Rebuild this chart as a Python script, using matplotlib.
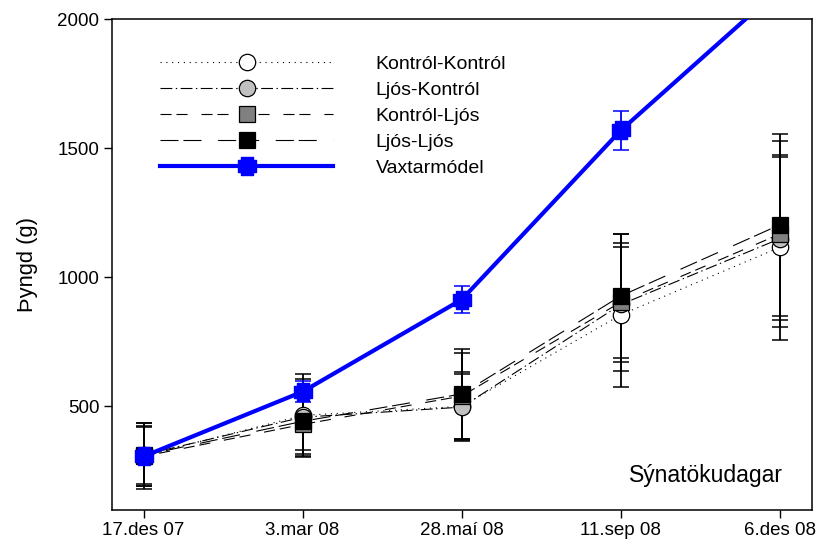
import matplotlib
matplotlib.use("Agg")
import matplotlib.pyplot as plt
from matplotlib.path import Path

plt.rcParams["font.family"] = ["Liberation Sans", "DejaVu Sans"]
plt.rcParams["lines.scale_dashes"] = False

# Sýnatökudagar og meðalþyngd (g) með staðalfráviki
dates = ["17.des 07", "3.mar 08", "28.maí 08", "11.sep 08", "6.des 08"]
kk = [308, 465, 500, 855, 1117]
kk_err = [127, 162, 135, 278, 359]
lk = [312, 458, 497, 895, 1150]
lk_err = [122, 150, 128, 224, 317]
kl = [306, 430, 540, 904, 1168]
kl_err = [114, 113, 165, 265, 362]
ll = [310, 442, 548, 928, 1204]
ll_err = [112, 112, 176, 242, 352]
vax = [306, 557, 914, 1570, 2120]
vax_err = [15, 41, 52, 75, 100]

names = ["Kontról-Kontról", "Ljós-Kontról", "Kontról-Ljós", "Ljós-Ljós", "Vaxtarmódel"]

# fylltur kross, breiðari armar en 'P'
a, b = 0.32, 0.5
cross = Path([(-a, -b), (a, -b), (a, -a), (b, -a), (b, a), (a, a), (a, b),
              (-a, b), (-a, a), (-b, a), (-b, -a), (-a, -a), (-a, -b)],
             closed=True)

styles = [
    dict(ls=(0, (0.8, 3.4)), marker="o", mfc="white", ms=11.8),
    dict(ls=(0, (8.5, 2.5, 1.0, 2.5)), marker="o", mfc="#c0c0c0", ms=11.8),
    dict(ls=(0, (8, 3.5, 8, 10)), marker="s", mfc="#808080", ms=11.8),
    dict(ls=(0, (13, 3.5, 13, 12)), marker="s", mfc="black", ms=11.8),
]

fig = plt.figure(figsize=(8.19, 5.49), dpi=100)
ax = fig.add_axes([0.1364, 0.0719, 0.8547, 0.8926])
x = list(range(len(dates)))

series = [(kk, kk_err), (lk, lk_err), (kl, kl_err), (ll, ll_err)]
handles = []
for (y, e), st, name in zip(series, styles, names):
    ax.errorbar(x, y, yerr=e, fmt="none", ecolor="black", elinewidth=1.3,
                capsize=6, capthick=1.1, zorder=2)
    h, = ax.plot(x, y, color="black", lw=0.8, linestyle=st["ls"],
                 marker=st["marker"], mfc=st["mfc"], mec="black", mew=0.9,
                 ms=st["ms"], label=name, zorder=3)
    handles.append(h)

ax.errorbar(x, vax, yerr=vax_err, fmt="none", ecolor="blue", elinewidth=1.3,
            capsize=6, capthick=1.1, zorder=4)
h, = ax.plot(x, vax, color="blue", lw=3.0, marker=cross, ms=12.5, mfc="blue",
             mec="blue", label=names[4], zorder=5)
handles.append(h)

ax.set_xlim(-0.2, 4.2)
ax.set_ylim(100, 2000)
ax.set_xticks(x)
ax.set_xticklabels(dates)
ax.set_yticks([500, 1000, 1500, 2000])
ax.tick_params(direction="out", length=6, width=1, labelsize=13.5, pad=3)
for s in ax.spines.values():
    s.set_linewidth(1.1)

ax.set_ylabel("Þyngd (g)", fontsize=15.8)
ax.yaxis.set_label_coords(-0.105, 0.5)
ax.text(0.959, 0.057, "Sýnatökudagar", transform=ax.transAxes, ha="right",
        va="baseline", fontsize=16.5)

ax.legend(handles=handles, loc="upper left", bbox_to_anchor=(160 / 819, 1 - 55 / 549),
          bbox_transform=fig.transFigure, frameon=False, fontsize=14,
          handlelength=8.9, handletextpad=2.2, labelspacing=0.44, numpoints=1,
          borderpad=0, borderaxespad=0)

fig.savefig("out.png", dpi=100)
